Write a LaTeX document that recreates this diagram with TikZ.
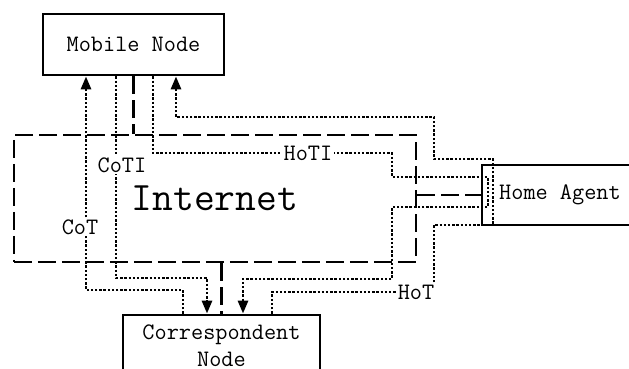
\documentclass[tikz,border=0pt]{standalone}
\usetikzlibrary{arrows.meta}

\begin{document}
\begin{tikzpicture}[
            x=0.5pt, y=-0.5pt,
            box/.style={
                draw,
                rectangle,
                line width=1.4pt,
                align=center,
                inner sep=0pt,
                font=\ttfamily\fontsize{11.8}{13.5}\selectfont
            },
            bond/.style={
                line width=1.4pt,
                dash pattern=on 9pt off 3pt
            },
            msg/.style={
                line width=1.4pt,
                dash pattern=on 1.2pt off 0.9pt
            },
            tip/.style={
                -{Triangle[length=6.5pt,width=5pt]}
            },
            tag/.style={
                fill=white,
                inner sep=1pt,
                font=\ttfamily\fontsize{11.8}{13}\selectfont
            }
        ]
            \useasboundingbox (0,0) rectangle (629,369);
            \clip (0,0) rectangle (629,369);

            \node (inet) [box, bond, minimum width=201pt, minimum height=63.5pt,
                font=\ttfamily\fontsize{20.2}{22}\selectfont] at (215,198.5) {Internet};
            \node (mn) [box, minimum width=90.5pt, minimum height=30.5pt] at (133.5,44.5) {Mobile Node};
            \node (ha) [box, fill=white, minimum width=78pt, minimum height=30pt] at (560,195) {Home Agent};
            \node (cn) [box, minimum width=98.5pt, minimum height=31pt] at (221.5,346) {Correspondent\\Node};

            \draw[bond] (mn.south) -- (mn.south |- inet.north);
            \draw[bond] (inet.east |- ha.west) -- (ha.west);
            \draw[bond] (cn.north |- inet.south) -- (cn.north);

            \coordinate (cotA) at (183,290);
            \coordinate (cotB) at (86,290);
            \coordinate (cotiA) at (116,278);
            \coordinate (cotiB) at (207,278);
            \coordinate (hotiA) at (153,153);
            \coordinate (hotiB) at (392,177);
            \coordinate (hotiC) at (488,207);
            \coordinate (hotiD) at (392,279);
            \coordinate (hotiE) at (243,279);
            \coordinate (hotA) at (272,292);
            \coordinate (hotB) at (434,225);
            \coordinate (hotC) at (493,159);
            \coordinate (hotD) at (434,117);
            \coordinate (hotE) at (176,117);

            \draw[msg, tip] (cn.north -| cotA) |- (cotB) -- (mn.south -| cotB);
            \draw[msg, tip] (mn.south -| cotiA) |- (cotiB) -- (cn.north -| cotiB);
            \draw[msg, tip] (mn.south -| hotiA) -- (hotiA) -| (hotiB) -- (hotiB -| hotiC)
                -- (hotiC) -- (hotiC -| hotiD) -- (hotiD) -- (hotiE) -- (cn.north -| hotiE);
            \draw[msg, tip] (cn.north -| hotA) -- (hotA) -| (hotB) -- (hotB -| hotC)
                -- (hotC) -- (hotC -| hotD) -- (hotD) -- (hotE) -- (mn.south -| hotE);

            \node (cotl) [tag] at (80,227) {CoT};
            \node (cotil) [tag] at (122,165) {CoTI};
            \node (hotil) [tag] at (308,153) {HoTI};
            \node (hotl) [tag] at (416,292) {HoT};
        \end{tikzpicture}
\end{document}
